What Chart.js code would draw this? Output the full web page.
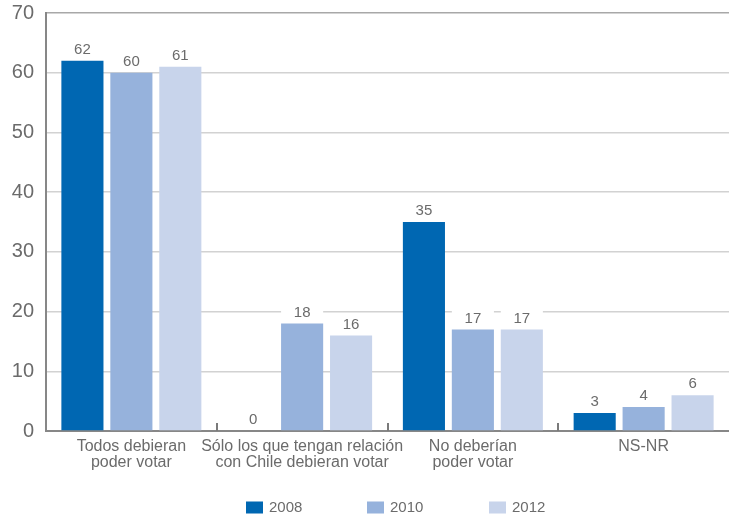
<!DOCTYPE html>
<html>
<head>
<meta charset="utf-8">
<script src="https://cdn.jsdelivr.net/npm/chart.js@4.4.1/dist/chart.umd.min.js"></script>
<style>
  html, body { margin: 0; padding: 0; background: #fff; }
  #wrap { width: 729px; height: 515px; }
</style>
</head>
<body>
<div id="wrap"><canvas id="chart" width="729" height="515"></canvas></div>
<script>
// -------------------------------
// Data
// -------------------------------
const categories = [
  ["Todos debieran", "poder votar"],
  ["Sólo los que tengan relación", "con Chile debieran votar"],
  ["No deberían", "poder votar"],
  "NS-NR",
];
const years = ["2008", "2010", "2012"];
const values2008 = [62, 0, 35, 3];
const values2010 = [60, 18, 17, 4];
const values2012 = [61, 16, 17, 6];
const yTicks = [0, 10, 20, 30, 40, 50, 60, 70];

const colors = ["#0067b2", "#96b2dc", "#c8d4eb"];
const textColor = "#6b6b6b";
const axisColor = "#878787";
const fontFamily = "'Liberation Sans', Arial, sans-serif";

// -------------------------------
// Plugins
// -------------------------------

// Value labels on a white patch above each bar
const valueLabels = {
  id: "valueLabels",
  afterDatasetsDraw(chart) {
    const ctx = chart.ctx;
    ctx.save();
    ctx.font = "15px " + fontFamily;
    ctx.textAlign = "center";
    ctx.textBaseline = "middle";
    chart.data.datasets.forEach((ds, di) => {
      chart.getDatasetMeta(di).data.forEach((bar, i) => {
        const w = bar.width;
        ctx.fillStyle = "#fff";
        ctx.fillRect(bar.x - w / 2, bar.y - 21, w, 18);
        ctx.fillStyle = textColor;
        ctx.fillText(String(ds.data[i]), bar.x, bar.y - 11);
      });
    });
    ctx.restore();
  },
};

// Short upward tick marks between categories
const categoryTicks = {
  id: "categoryTicks",
  afterDraw(chart) {
    const x = chart.scales.x;
    const ctx = chart.ctx;
    const step = (x.right - x.left) / categories.length;
    ctx.save();
    ctx.fillStyle = "#7a7a7a";
    for (let i = 1; i < categories.length; i++) {
      const px = Math.round(x.left + step * i);
      ctx.fillRect(px - 1, x.top - 8, 2, 8);
    }
    ctx.restore();
  },
};

// Legend row under the axis
const bottomLegend = {
  id: "bottomLegend",
  afterDraw(chart) {
    const ctx = chart.ctx;
    const area = chart.chartArea;
    const boxW = 17, boxH = 12, gap = 6, spacing = 65;
    ctx.save();
    ctx.font = "15px " + fontFamily;
    ctx.textBaseline = "middle";
    const items = chart.data.datasets.map((ds) => ({
      label: ds.label,
      color: ds.backgroundColor,
      w: boxW + gap + ctx.measureText(ds.label).width,
    }));
    const total = items.reduce((s, it) => s + it.w, 0) + spacing * (items.length - 1);
    let x = (area.left + area.right) / 2 + 8 - total / 2;
    const cy = 507.5;
    items.forEach((it) => {
      ctx.fillStyle = it.color;
      ctx.fillRect(Math.round(x), cy - boxH / 2, boxW, boxH);
      ctx.fillStyle = textColor;
      ctx.fillText(it.label, Math.round(x) + boxW + gap, cy);
      x += it.w + spacing;
    });
    ctx.restore();
  },
};

// -------------------------------
// Chart
// -------------------------------
const seriesValues = [values2008, values2010, values2012];

new Chart(document.getElementById("chart"), {
  type: "bar",
  data: {
    labels: categories,
    datasets: years.map((y, i) => ({
      label: y,
      data: seriesValues[i],
      backgroundColor: colors[i],
      categoryPercentage: 0.86,
      barPercentage: 0.86,
    })),
  },
  options: {
    responsive: false,
    animation: false,
    layout: { padding: { top: 13, right: 0, bottom: 34, left: 0 } },
    plugins: {
      legend: { display: false },
      tooltip: { enabled: false },
    },
    scales: {
      x: {
        offset: true,
        grid: { display: false, drawTicks: false },
        border: { display: true, color: axisColor, width: 2 },
        ticks: {
          color: textColor,
          font: { family: fontFamily, size: 16, lineHeight: 1.0 },
          padding: 8,
          maxRotation: 0,
          autoSkip: false,
        },
        afterFit(scale) {
          scale.height = 50;
          scale.paddingLeft = 0;
          scale.paddingRight = 0;
        },
      },
      y: {
        min: yTicks[0],
        max: yTicks[yTicks.length - 1],
        afterBuildTicks(scale) {
          scale.ticks = yTicks.map((v) => ({ value: v }));
        },
        grid: {
          color: (c) => (c.tick && c.tick.value === 70 ? "#a8a8a8" : "#d2d2d2"),
          lineWidth: 1.5,
          drawTicks: false,
        },
        border: { display: true, color: axisColor, width: 2 },
        ticks: {
          color: textColor,
          font: { family: fontFamily, size: 20 },
          padding: 12,
        },
        afterFit(scale) {
          scale.width = 46;
          scale.paddingTop = 0;
          scale.paddingBottom = 0;
        },
      },
    },
  },
  plugins: [valueLabels, categoryTicks, bottomLegend],
});
</script>
</body>
</html>
